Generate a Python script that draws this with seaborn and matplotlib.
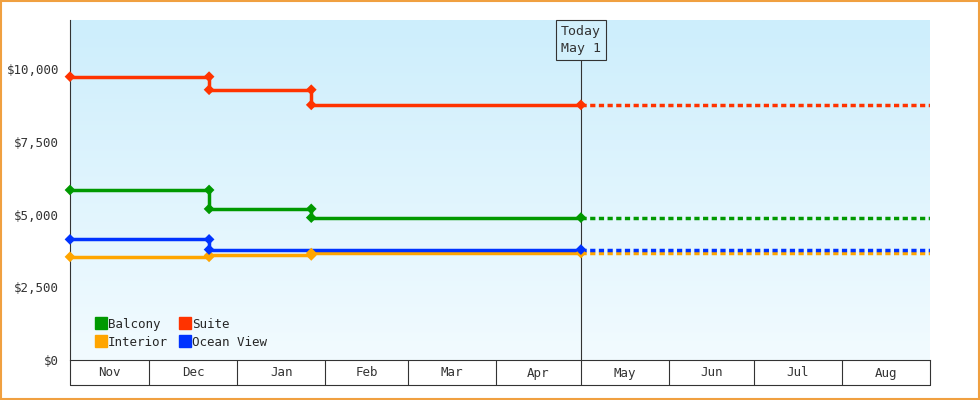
import matplotlib
matplotlib.use("Agg")
import matplotlib.pyplot as plt
import seaborn as sns
import numpy as np
import pandas as pd
from matplotlib.colors import LinearSegmentedColormap

sns.set_style("white")
plt.rcParams['font.family'] = ['DejaVu Sans Mono']

months = ["Nov", "Dec", "Jan", "Feb", "Mar", "Apr", "May", "Jun", "Jul", "Aug"]
month_starts = ["2023-11-03", "2023-12-01", "2024-01-01", "2024-02-01", "2024-03-01",
                "2024-04-01", "2024-05-01", "2024-06-01", "2024-07-01", "2024-08-01", "2024-09-01"]
today = "2024-05-01"
series_names = ["Balcony", "Suite", "Interior", "Ocean View"]
colors = ["#009900", "#ff3300", "#ffa500", "#0033ff"]
change_dates = {
    "Balcony": ["2023-11-03", "2023-12-22", "2024-01-27"],
    "Suite": ["2023-11-03", "2023-12-22", "2024-01-27"],
    "Interior": ["2023-11-03", "2023-12-22", "2024-01-27"],
    "Ocean View": ["2023-11-03", "2023-12-22"],
}
prices = {
    "Balcony": [5850, 5200, 4900],
    "Suite": [9750, 9300, 8780],
    "Interior": [3550, 3600, 3680],
    "Ocean View": [4150, 3800],
}

origin = pd.Timestamp(month_starts[0])
def day(s):
    return (pd.Timestamp(s) - origin).days

fig = plt.figure(figsize=(9.8, 4.0), dpi=100)
fig.patch.set_facecolor("white")
ax = fig.add_axes([70/980, 40/400, 860/980, 340/400])
xmax = day(month_starts[-1])
ax.set_xlim(0, xmax)
ax.set_ylim(0, 11700)

grad = np.linspace(0, 1, 256).reshape(-1, 1)
cmap = LinearSegmentedColormap.from_list("g", ["#f2fbff", "#cdeefc"])
ax.imshow(grad, aspect="auto", cmap=cmap, extent=[0, 1, 1, 0], transform=ax.transAxes, zorder=0)

t = day(today)
for name, c in zip(series_names, colors):
    ds = [day(d) for d in change_dates[name]] + [t]
    vs = prices[name]
    xs, ys = [], []
    for i, v in enumerate(vs):
        xs += [ds[i], ds[i+1]]
        ys += [v, v]
    df = pd.DataFrame({"x": xs, "y": ys})
    sns.lineplot(data=df, x="x", y="y", sort=False, color=c, lw=2.5, ax=ax, zorder=3, estimator=None)
    sns.scatterplot(data=df, x="x", y="y", color=c, s=30, marker="D", ax=ax, zorder=4,
                    edgecolor="none", linewidth=0, clip_on=False)
    fdf = pd.DataFrame({"x": [t, xmax], "y": [vs[-1], vs[-1]]})
    sns.lineplot(data=fdf, x="x", y="y", color=c, lw=2.5, ls=(0, (1.5, 1)), ax=ax, zorder=3)
    ax.plot([], [], "s", color=c, ms=8, label=name)

ax.axvline(t, ymax=(340-40)/340, color="#333333", lw=0.8, zorder=2)
ax.text(t, 11700 - 20*11700/340, "Today\nMay 1", ha="center", va="center", fontsize=9.5,
        color="#333333", linespacing=1.4,
        bbox=dict(boxstyle="square,pad=0.4", fc="#d2f0fc", ec="#333333", lw=0.8), zorder=5)

ax.set_yticks([0, 2500, 5000, 7500, 10000])
ax.set_yticklabels(["$0", "$2,500", "$5,000", "$7,500", "$10,000"])
ax.tick_params(axis="y", direction="out", length=6, width=1, labelsize=9, color="#333333", labelcolor="#333333", pad=2)
ax.set_xticks([])
ax.set_xlabel(""); ax.set_ylabel("")
for s in ["top", "right"]:
    ax.spines[s].set_visible(False)
ax.spines["left"].set_color("#333333")
ax.spines["bottom"].set_color("#333333")

trans = ax.get_xaxis_transform()
for ms in month_starts:
    ax.plot([day(ms)]*2, [0, -25/340], transform=trans, color="#333333", lw=0.8, clip_on=False)
ax.plot([0, xmax], [-25/340]*2, transform=trans, color="#333333", lw=0.8, clip_on=False)
for i, m in enumerate(months):
    mid = (day(month_starts[i]) + day(month_starts[i+1])) / 2
    ax.text(mid, -13/340, m, transform=trans, ha="center", va="center", fontsize=9, color="#333333")

order = [0, 2, 1, 3]
h, l = ax.get_legend_handles_labels()
ax.legend([h[i] for i in order], [l[i] for i in order], ncol=2, loc="lower left",
          bbox_to_anchor=(0.018, 0.0), frameon=False, fontsize=9, handlelength=0.7,
          handletextpad=0.2, columnspacing=1.0, labelspacing=0.4)

fig.add_artist(plt.Rectangle((0.001, 0.002), 0.998, 0.996, transform=fig.transFigure,
                             fill=False, ec="#f0a040", lw=1.5))
fig.savefig("out.png", dpi=100)
